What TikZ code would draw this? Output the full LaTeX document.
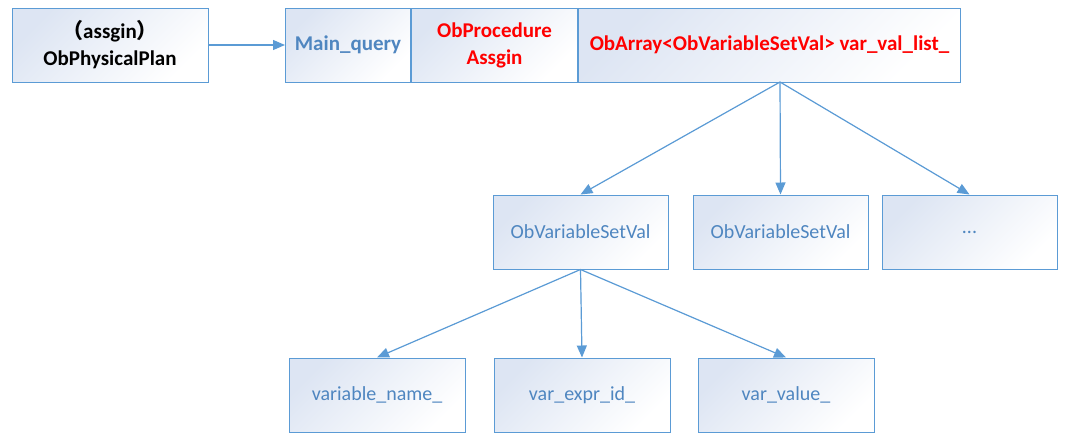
\documentclass[tikz,border=0pt]{standalone}
\usepackage{fontspec}
\setmainfont{Carlito}
\newfontfamily\cjk{Noto Sans CJK SC}
\usetikzlibrary{arrows.meta}

\definecolor{lineblue}{HTML}{5B9BD5}
\definecolor{textblue}{HTML}{4F86C0}
\definecolor{shadeblue}{HTML}{DDE5F3}

\tikzset{
  box/.style={rectangle, draw=lineblue, line width=1pt, top color=shadeblue, middle color=white, bottom color=white, shading angle=45, align=center, inner sep=0pt, minimum height=74pt, font=\fontsize{20}{26}\selectfont},
  field/.style={box, text=textblue},
  keybox/.style={box, font=\fontsize{21}{27}\selectfont\bfseries},
  arrow/.style={-{Triangle[length=12pt,width=10pt]}, line width=1.2pt, draw=lineblue, fill=lineblue},
}

\begin{document}
\begin{tikzpicture}[x=1pt, y=-1pt]
  \useasboundingbox (0,0) rectangle (1070,445);

  % top row
  \node[keybox, minimum width=196pt] (plan) at (110,45) {{\cjk （}assgin{\cjk ）}\\ObPhysicalPlan};
  \node[keybox, text=textblue, minimum width=125pt, anchor=west] (mainq) at (285,45) {Main\_query};
  \node[keybox, text=red, minimum width=166pt, anchor=west] (proc) at (mainq.east) {ObProcedure\\Assgin};
  \node[keybox, text=red, minimum width=382pt, anchor=west] (varlist) at (proc.east) {ObArray<ObVariableSetVal> var\_val\_list\_};
  \coordinate (fan) at (780,82);

  % middle row
  \node[field, minimum width=175pt] (setval1) at (580.5,232) {ObVariableSetVal};
  \node[field, minimum width=175pt] (setval2) at (780.5,232) {ObVariableSetVal};
  \node[field, minimum width=175pt] (more)    at (969.5,232) {...};

  % bottom row
  \node[field, minimum width=176pt] (varname) at (377,395) {variable\_name\_};
  \node[field, minimum width=176pt] (exprid)  at (582,395) {var\_expr\_id\_};
  \node[field, minimum width=176pt] (varval)  at (786,395) {var\_value\_};

  \draw[arrow] (plan) -- (mainq);
  \draw[arrow] (fan) -- (setval1.north);
  \draw[arrow] (fan) -- (setval2.north);
  \draw[arrow] (fan) -- (more.north);
  \draw[arrow] (setval1.south) -- (varname.north);
  \draw[arrow] (setval1.south) -- (exprid.north);
  \draw[arrow] (setval1.south) -- (varval.north);
\end{tikzpicture}
\end{document}
